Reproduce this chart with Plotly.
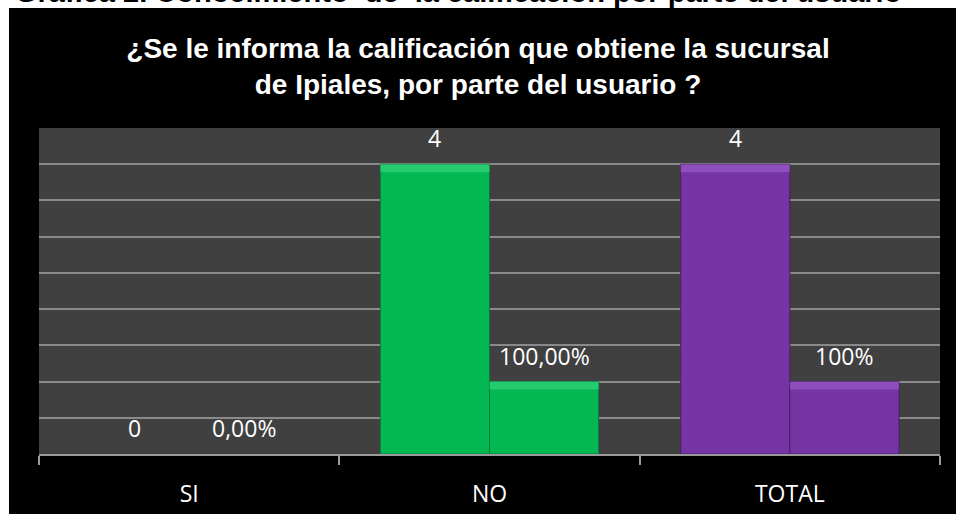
import plotly.graph_objects as go

# Survey answers: how many users report the branch rating, and their share
categorias = ["SI", "NO", "TOTAL"]
frecuencia = [0, 4, 4]
porcentaje = [0.0, 1.0, 1.0]          # fraction of respondents (1.0 = 100 %)
decimales_pct = [2, 2, 0]             # decimals shown in each percentage label
colores = ["#00B050", "#03B853", "#7634A5"]
brillos = ["#45DB86", "#45DB86", "#A266CF"]
bordes = ["#0a7a3a", "#0a7a3a", "#4a1d6a"]

titulo = "¿Se le informa la calificación que obtiene la sucursal<br>de Ipiales, por parte del usuario ?"
encabezado = "Gráfica 2. Conocimiento  de  la calificación por parte del usuario"

W, H = 956, 514
ML, MR, MT, MB = 39, 16, 128, 60
PW, PH = W - ML - MR, H - MT - MB

BARGAP = 0.273
BEVEL = 0.11                          # height of the light top edge, in axis units
LABEL_FONT = dict(family="Open Sans", size=23, color="white")


def fmt_pct(v, d):
    return f"{v * 100:.{d}f}".replace(".", ",") + "%"


fig = go.Figure()
for nombre, grupo, valores in (("Frecuencia", "f", frecuencia),
                               ("Porcentaje", "p", porcentaje)):
    fig.add_trace(go.Bar(
        x=categorias, y=valores, name=nombre, offsetgroup=grupo,
        marker=dict(color=colores,
                    line=dict(color=bordes, width=[1 if v > 0 else 0 for v in valores])),
        hoverinfo="skip",
    ))
    # light bevel along the top of each bar
    fig.add_trace(go.Bar(
        x=categorias,
        y=[BEVEL if v > 0 else 0 for v in valores],
        base=[v - BEVEL if v > 0 else 0 for v in valores],
        offsetgroup=grupo, showlegend=False,
        marker=dict(color=brillos, opacity=0.55, line=dict(width=0)),
        hoverinfo="skip",
    ))

# value labels above each bar of the group
off = (1 - BARGAP) / 4
anns = []
for i, cat in enumerate(categorias):
    anns.append(dict(x=i - off, y=frecuencia[i], xref="x", yref="y",
                     text=str(frecuencia[i]), showarrow=False,
                     yanchor="middle", yshift=26, font=LABEL_FONT))
    anns.append(dict(x=i + off, y=porcentaje[i], xref="x", yref="y",
                     text=fmt_pct(porcentaje[i], decimales_pct[i]), showarrow=False,
                     yanchor="middle", yshift=26, font=LABEL_FONT))

# caption line of the document, mostly hidden behind the black chart frame
anns.append(dict(x=(13 - ML) / PW, y=(PH + MT - 10) / PH, xref="paper", yref="paper",
                 xanchor="left", yanchor="bottom", showarrow=False,
                 text=encabezado,
                 font=dict(family="Liberation Sans, Arial", size=29, color="black",
                           weight="bold")))

# white page margins around the black frame
shapes = [
    dict(type="rect", xref="paper", yref="paper", layer="below",
         x0=-0.1, x1=1.1, y0=(PH + MT - 8) / PH, y1=1.6,
         fillcolor="white", line=dict(width=0)),
    dict(type="rect", xref="paper", yref="paper", layer="below",
         x0=-0.1, x1=(9 - ML) / PW, y0=-0.4, y1=1.6,
         fillcolor="white", line=dict(width=0)),
]

fig.update_layout(
    width=W, height=H,
    margin=dict(l=ML, r=MR, t=MT, b=MB),
    paper_bgcolor="black",
    plot_bgcolor="#404040",
    barmode="group", bargap=BARGAP, bargroupgap=0,
    showlegend=False,
    title=dict(text=titulo, x=0.5, xanchor="center", xref="container",
               y=1 - 58 / H, yanchor="top", yref="container",
               font=dict(family="Liberation Sans, Arial", size=28, color="white",
                         weight="bold")),
    annotations=anns,
    shapes=shapes,
    xaxis=dict(type="category", range=[-0.5, 2.5], automargin=False,
               showline=True, linecolor="#9a9a9a", linewidth=2,
               ticks="outside", tickson="boundaries", ticklen=9,
               tickcolor="#9a9a9a", tickwidth=1.5,
               tickfont=LABEL_FONT, ticklabelstandoff=18,
               showgrid=False, fixedrange=True),
    yaxis=dict(range=[0, 4.5], dtick=0.5, showticklabels=False, automargin=False,
               showgrid=True, gridcolor="#8a8a8a", gridwidth=1.5,
               zeroline=False, showline=False, ticks="", fixedrange=True),
)

fig.write_html("out.html", config={"displayModeBar": False})
